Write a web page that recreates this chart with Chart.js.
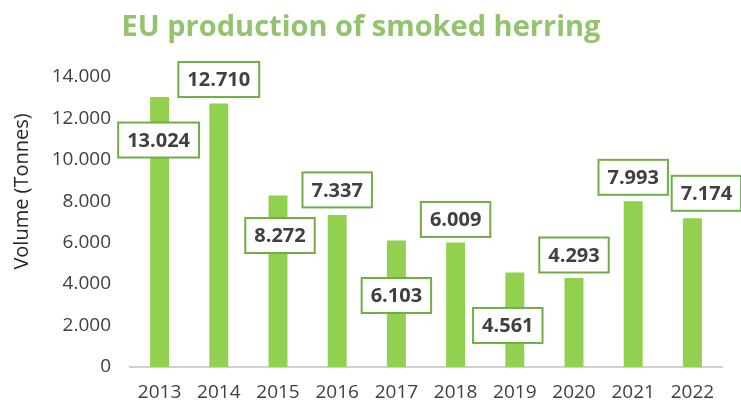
<!DOCTYPE html>
<html>
<head>
<meta charset="utf-8">
<script src="https://cdn.jsdelivr.net/npm/chart.js@4.4.1/dist/chart.umd.min.js"></script>
<style>
  body { margin: 0; background: #fff; }
  #wrap { width: 741px; height: 402px; position: relative; }
</style>
</head>
<body>
<div id="wrap"><canvas id="herring"></canvas></div>
<script>
// chart values
var years = ["2013", "2014", "2015", "2016", "2017", "2018", "2019", "2020", "2021", "2022"];
var volumes = [13024, 12710, 8272, 7337, 6103, 6009, 4561, 4293, 7993, 7174];
var yTicks = [0, 2000, 4000, 6000, 8000, 10000, 12000, 14000];

function fmt(v) {
  return String(v).replace(/\B(?=(\d{3})+(?!\d))/g, ".");
}

// boxed value labels, offset from bar top (px)
var boxLabels = {
  id: "boxLabels",
  afterDatasetsDraw: function(chart, args, opts) {
    var ctx = chart.ctx;
    var meta = chart.getDatasetMeta(0);
    ctx.save();
    ctx.font = "bold 20px 'Open Sans'";
    ctx.textAlign = "center";
    ctx.textBaseline = "middle";
    meta.data.forEach(function(bar, i) {
      var txt = fmt(volumes[i]);
      var w = ctx.measureText(txt).width + 18;
      var h = 35;
      var cx = bar.x + opts.dx[i];
      var cy = bar.y + opts.dy[i];
      ctx.fillStyle = "#fff";
      ctx.fillRect(cx - w / 2, cy - h / 2, w, h);
      ctx.strokeStyle = "#70ad47";
      ctx.lineWidth = 2;
      ctx.strokeRect(cx - w / 2, cy - h / 2, w, h);
      ctx.fillStyle = "#404040";
      ctx.fillText(txt, cx, cy + 1);
    });
    ctx.restore();
  }
};

// y axis title sits a bit above the middle of the plot
var yTitle = {
  id: "yTitle",
  afterDraw: function(chart) {
    var ctx = chart.ctx;
    var a = chart.chartArea;
    ctx.save();
    ctx.translate(22, a.top + (a.bottom - a.top) * 0.395);
    ctx.rotate(-Math.PI / 2);
    ctx.font = "20px 'Open Sans'";
    ctx.fillStyle = "#262626";
    ctx.textAlign = "center";
    ctx.textBaseline = "middle";
    ctx.fillText("Volume (Tonnes)", 0, 0);
    ctx.restore();
  }
};

var ctx = document.getElementById("herring");
var herringChart = new Chart(ctx, {
  type: "bar",
  data: {
    labels: years,
    datasets: [
      {
        label: "Volume",
        data: volumes,
        backgroundColor: "#92d050",
        borderWidth: 0,
        categoryPercentage: 1,
        barPercentage: 0.32
      }
    ]
  },
  options: {
    responsive: true,
    maintainAspectRatio: false,
    animation: false,
    layout: { padding: { left: 0, right: 19, top: 0, bottom: 0 } },
    plugins: {
      legend: { display: false },
      tooltip: { enabled: false },
      title: {
        display: true,
        text: "EU production of smoked herring",
        color: "#93c36c",
        font: { family: "'Open Sans'", size: 29, weight: "bold" },
        padding: { top: 10, bottom: 32 }
      },
      boxLabels: {
        dx: [-1, 0, 2, 0, 0, 0, -7, 0, 0, 14],
        dy: [43, -24, 40, -25, 55, -23, 53, -23, -24, -25]
      }
    },
    scales: {
      x: {
        grid: { display: false },
        border: { display: true, color: "#d0d0d0", width: 2 },
        ticks: { color: "#404040", font: { family: "'Open Sans'", size: 19 }, padding: 6 },
        afterFit: function(scale) { scale.height = 35; }
      },
      y: {
        min: 0,
        max: 14000,
        afterBuildTicks: function(scale) {
          scale.ticks = yTicks.map(function(v) { return { value: v }; });
        },
        grid: { display: false, drawTicks: false },
        border: { display: false },
        ticks: {
          color: "#404040",
          font: { family: "'Open Sans'", size: 19 },
          padding: 19,
          callback: function(v) { return fmt(v); }
        },
        afterFit: function(scale) { scale.width = 130; }
      }
    }
  },
  plugins: [boxLabels, yTitle]
});
</script>
</body>
</html>
